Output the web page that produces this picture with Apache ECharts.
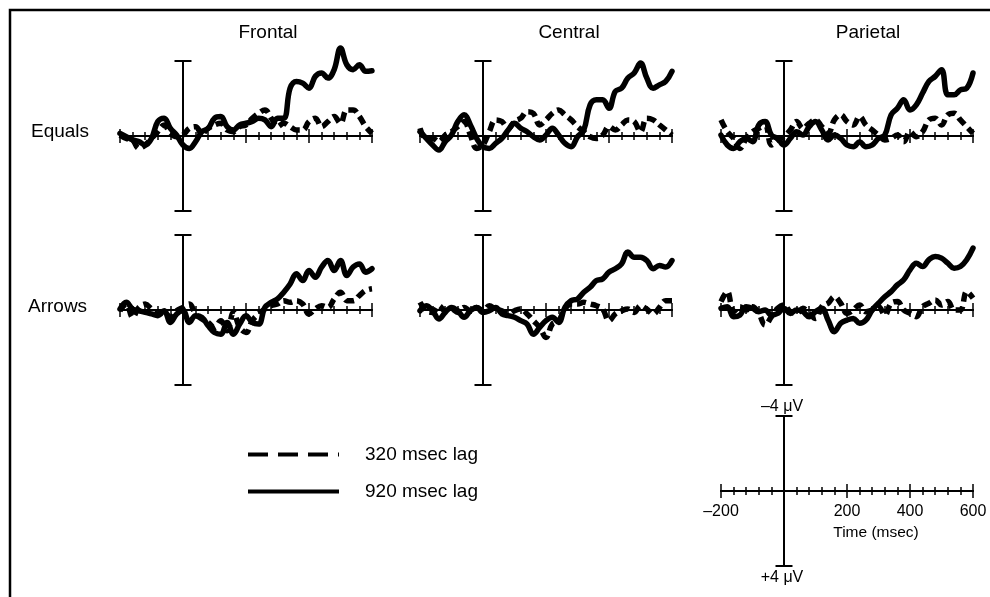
<!DOCTYPE html>
<html><head><meta charset="utf-8">
<script src="https://cdn.jsdelivr.net/npm/echarts@6/dist/echarts.min.js"></script>
<style>html,body{margin:0;padding:0;background:#fff}#c{width:990px;height:597px}</style>
</head><body><div id="c"></div>
<script>
const FONT = '"Liberation Sans", Arial, Helvetica, sans-serif';

// sample times (ms)
const times = [-200,-180,-160,-140,-120,-100,-80,-60,-40,-20,0,20,40,60,80,100,120,140,160,180,200,220,240,260,280,300,320,340,360,380,400,420,440,460,480,500,520,540,560,580,600];

const regions = ['Frontal', 'Central', 'Parietal'];
const conditions = ['Equals', 'Arrows'];
const lagNames = ['320 msec lag', '920 msec lag'];
const scaleTicks = [-200, 200, 400, 600];
const scaleVoltLabels = ['\u20134 \u03bcV', '+4 \u03bcV'];
const timeAxisName = 'Time (msec)';

// amplitudes in microvolts (negative plotted up)
const frontalEquals320 = [-0.05,0.13,0.21,0.66,0.48,0.13,-0.23,-0.59,-0.14,0.04,-0.05,-0.41,-0.50,-0.14,-0.41,-0.59,-0.68,-0.32,-0.23,-0.50,-0.59,-0.95,-1.21,-1.39,-0.95,-0.50,-0.68,-0.50,-0.32,-0.32,-0.77,-0.95,-0.50,-0.77,-1.04,-0.68,-1.39,-1.39,-1.04,-0.50,-0.14];
const frontalEquals920 = [-0.14,0.04,0.21,0.30,0.48,0.13,-0.77,-0.95,-0.41,-0.05,0.48,0.66,0.30,-0.23,-0.41,-0.95,-1.04,-0.50,-0.32,-0.59,-0.68,-0.77,-0.95,-0.86,-0.50,-0.95,-0.95,-2.55,-2.91,-2.82,-2.55,-3.18,-3.36,-3.09,-3.54,-4.70,-3.80,-3.54,-3.80,-3.45,-3.48];
const centralEquals320 = [-0.41,0.13,0.13,0.30,-0.05,-0.23,-0.50,-0.77,-0.05,0.66,0.48,-0.23,-0.86,-0.77,-0.41,-0.77,-0.95,-1.30,-1.21,-0.59,-0.86,-1.21,-1.39,-1.13,-0.86,-0.50,-0.23,0.04,0.13,-0.05,-0.50,-0.32,-0.59,-0.86,-0.77,-0.23,-0.95,-0.86,-0.59,-0.32,-0.05];
const centralEquals920 = [-0.23,0.13,0.48,0.75,0.30,-0.05,-0.77,-1.13,-0.59,0.13,0.57,0.66,0.39,0.13,-0.32,-0.68,-0.41,-0.23,0.04,0.21,-0.05,-0.41,-0.05,0.39,0.57,0.04,-0.32,-1.66,-1.93,-1.93,-1.48,-2.38,-2.55,-3.09,-3.36,-3.89,-3.09,-2.55,-2.73,-2.91,-3.45];
const parietalEquals320 = [-0.86,-0.23,0.13,0.66,0.13,-0.23,-0.41,-0.59,0.48,0.21,0.04,-0.32,-0.77,-0.41,-0.68,-0.86,-0.50,-0.14,-0.86,-1.13,-0.77,-0.59,-1.04,-0.59,-0.32,-0.05,0.21,0.13,-0.05,0.30,-0.23,0.04,-0.23,-0.86,-0.95,-0.59,-1.13,-1.21,-0.86,-0.50,-0.14];
const parietalEquals920 = [-0.05,0.48,0.66,0.30,0.13,0.30,-0.59,-0.77,-0.05,0.13,0.48,0.13,-0.23,-0.05,-0.50,-0.77,-0.32,0.21,-0.05,0.13,0.48,0.57,0.30,0.57,0.48,0.13,-0.05,-1.13,-1.48,-1.93,-1.39,-1.66,-2.29,-2.91,-3.18,-3.54,-2.20,-2.20,-2.46,-2.55,-3.36];
const frontalArrows320 = [0.04,-0.32,0.39,-0.14,-0.32,-0.05,0.21,0.13,0.39,0.04,-0.14,-0.32,0.21,0.48,0.66,0.93,0.57,1.11,0.13,0.93,1.20,0.57,0.21,-0.05,-0.23,-0.32,-0.50,-0.41,-0.50,-0.32,0.21,-0.05,-0.23,-0.14,-0.59,-0.95,-0.50,-0.50,-0.77,-1.04,-1.13];
const frontalArrows920 = [-0.05,-0.41,-0.05,0.04,0.13,0.21,0.30,0.04,0.66,0.21,0.04,0.66,0.30,0.39,0.84,1.20,1.29,0.66,1.29,0.75,0.30,0.66,0.75,-0.14,-0.41,-0.59,-0.95,-1.39,-1.93,-1.57,-2.11,-1.75,-2.29,-2.64,-2.11,-2.64,-1.84,-2.29,-2.46,-2.02,-2.20];
const centralArrows320 = [-0.41,0.04,0.13,-0.23,0.04,-0.05,0.13,-0.14,0.04,-0.14,0.04,-0.23,-0.05,0.04,0.21,0.04,-0.05,0.21,0.57,0.93,1.46,0.75,0.57,-0.05,-0.32,-0.32,-0.41,-0.32,-0.23,-0.05,0.57,0.21,0.04,-0.05,0.13,-0.23,-0.05,0.21,-0.14,-0.50,-0.50];
const centralArrows920 = [0.04,-0.23,0.04,0.48,0.13,-0.14,0.04,0.39,0.04,-0.14,0.13,0.04,-0.14,0.21,0.30,0.39,0.57,0.75,1.29,0.93,0.57,0.39,0.66,-0.14,-0.50,-0.59,-0.95,-1.21,-1.57,-1.66,-2.02,-2.20,-2.46,-3.09,-2.82,-2.82,-2.64,-2.20,-2.38,-2.29,-2.64];
const parietalArrows320 = [-0.45,-0.98,0.09,-0.18,0,-0.18,0.18,0.80,0.36,-0.09,-0.27,0.09,0.18,-0.09,0.18,0.45,-0.18,-0.36,-0.71,-0.36,0.18,0,-0.27,0.09,0,-0.18,0.27,-0.36,-0.45,0,0.18,0.36,-0.18,-0.36,-0.54,-0.27,-0.45,0,0,-0.98,-0.63];
const parietalArrows920 = [-0.09,-0.18,0.36,0.27,-0.18,-0.09,0.09,0,0.27,0.18,-0.09,0.18,0,0.09,0.36,0.09,-0.09,0.54,1.16,0.71,0.54,0.45,0.71,0.54,0,-0.36,-0.71,-0.98,-1.34,-1.61,-2.14,-2.50,-2.32,-2.68,-2.86,-2.77,-2.50,-2.23,-2.32,-2.68,-3.30];

const panelData = [
  [frontalEquals320, frontalEquals920, centralEquals320, centralEquals920, parietalEquals320, parietalEquals920],
  [frontalArrows320, frontalArrows920, centralArrows320, centralArrows920, parietalArrows320, parietalArrows920]
];

// layout (pixels)
const colLeft = [120, 420, 721];
const rowTop = [61, 235];
const PW = 252, PH = 150;
const scaleBox = {left: 721, top: 416};

const grid = [], xAxis = [], yAxis = [], series = [];
const axisColor = '#000';

function addAxes(left, top, withLabels) {
  const gi = grid.length;
  grid.push({left: left, top: top, width: PW, height: PH});
  const yi = yAxis.length;
  const xi = xAxis.length;
  yAxis.push({
    type: 'value', gridIndex: gi, min: -4, max: 4, inverse: true,
    axisLine: {show: true, onZero: true, onZeroAxisIndex: xi, lineStyle: {color: axisColor, width: 2},
      symbol: ['rect', 'rect'], symbolSize: [17, 2]},
    axisTick: {show: false}, axisLabel: {show: false}, splitLine: {show: false}
  });
  ['bottom', 'top'].forEach(function (pos) {
    xAxis.push({
      type: 'value', gridIndex: gi, position: pos, min: -200, max: 600, interval: 200,
      axisLine: {show: true, onZero: true, onZeroAxisIndex: yi, lineStyle: {color: axisColor, width: 2}},
      axisTick: {show: true, length: 7, lineStyle: {color: axisColor, width: 1.5}},
      minorTick: {show: true, splitNumber: 5, length: 4, lineStyle: {color: axisColor, width: 1.5}},
      axisLabel: {show: false}, splitLine: {show: false}, minorSplitLine: {show: false}
    });
  });
  if (withLabels) {
    xAxis.push({
      type: 'value', gridIndex: gi, position: 'bottom', offset: -PH / 2, min: -200, max: 600, interval: 200,
      axisLine: {show: false, onZero: false}, axisTick: {show: false}, splitLine: {show: false},
      axisLabel: {show: true, margin: 13, fontSize: 16, color: '#000', fontFamily: FONT,
        showMinLabel: true, showMaxLabel: true,
        formatter: function (v) { return scaleTicks.indexOf(v) < 0 ? '' : (v < 0 ? '\u2013' + (-v) : String(v)); }}
    });
  }
  return {gi: gi, xi: xi, yi: yi};
}

for (let r = 0; r < 2; r++) {
  for (let c = 0; c < 3; c++) {
    const ax = addAxes(colLeft[c], rowTop[r], false);
    const d320 = panelData[r][c * 2], d920 = panelData[r][c * 2 + 1];
    series.push({
      name: lagNames[0], type: 'line', xAxisIndex: ax.xi, yAxisIndex: ax.yi, clip: false,
      symbol: 'none', smooth: 0.4, animation: false,
      lineStyle: {color: '#000', width: 5.5, type: [9, 5], cap: 'butt', join: 'round'},
      data: times.map(function (t, i) { return [t, d320[i]]; })
    });
    series.push({
      name: lagNames[1], type: 'line', xAxisIndex: ax.xi, yAxisIndex: ax.yi, clip: false,
      symbol: 'none', smooth: 0.4, animation: false, z: 3,
      lineStyle: {color: '#000', width: 5.5, type: 'solid', cap: 'round', join: 'round'},
      data: times.map(function (t, i) { return [t, d920[i]]; })
    });
  }
}
addAxes(scaleBox.left, scaleBox.top, true);

const txt = function (text, x, y, size, align) {
  return {type: 'text', x: x, y: y, silent: true,
    style: {text: text, fill: '#000', font: size + 'px ' + FONT, textAlign: align || 'center', textVerticalAlign: 'middle'}};
};

const option = {
  animation: false,
  backgroundColor: '#fff',
  grid: grid, xAxis: xAxis, yAxis: yAxis, series: series,
  legend: {
    orient: 'vertical', left: 246, top: 445, padding: 0,
    itemWidth: 91, itemHeight: 20, itemGap: 18, selectedMode: false,
    itemStyle: {opacity: 0, borderWidth: 0},
    lineStyle: {width: 4},
    textStyle: {fontSize: 19, color: '#000', fontFamily: FONT, padding: [0, 0, 0, 21]},
    data: [
      {name: lagNames[0], lineStyle: {type: [20, 10], width: 4, cap: 'butt'}},
      {name: lagNames[1], lineStyle: {type: 'solid', width: 4, cap: 'butt'}}
    ]
  },
  graphic: [
    {type: 'polyline', silent: true, shape: {points: [[10, 600], [10, 10], [995, 10]]},
      style: {stroke: '#000', lineWidth: 2.5, fill: null}},
    txt(regions[0], 268, 33, 19),
    txt(regions[1], 569, 33, 19),
    txt(regions[2], 868, 33, 19),
    txt(conditions[0], 31, 132, 19, 'left'),
    txt(conditions[1], 28, 307, 19, 'left'),
    txt(scaleVoltLabels[0], 782, 407, 16),
    txt(scaleVoltLabels[1], 782, 578, 16),
    txt(timeAxisName, 876, 533, 15.5)
  ]
};

const chart = echarts.init(document.getElementById('c'), null, {renderer: 'canvas'});
chart.setOption(option);
</script>
</body></html>
